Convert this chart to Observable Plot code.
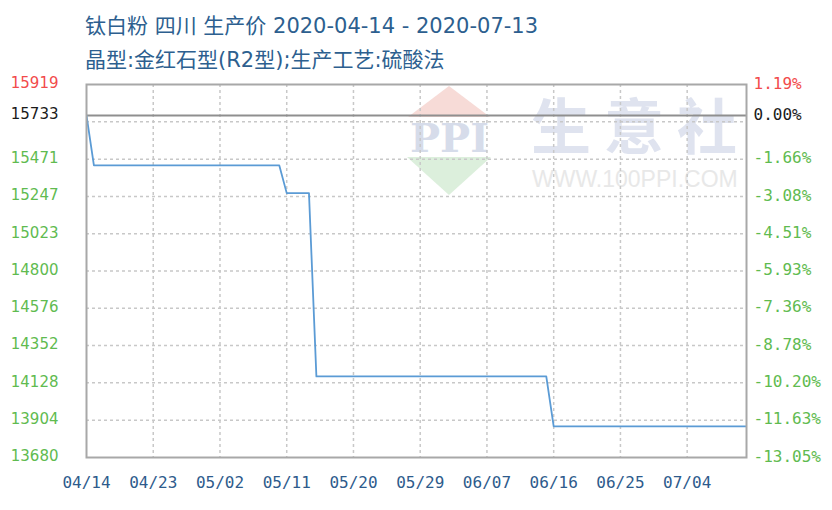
<!DOCTYPE html>
<html><head><meta charset="utf-8">
<script src="https://cdn.jsdelivr.net/npm/d3@7"></script>
<script src="https://cdn.jsdelivr.net/npm/@observablehq/plot@0.6"></script>
<style>
body{margin:0;background:#fff;width:832px;height:510px;overflow:hidden;position:relative;}
#title{position:absolute;left:85px;top:9px;color:#2d5f8f;font-family:"DejaVu Sans","Noto Sans CJK SC",sans-serif;font-size:21px;line-height:34px;white-space:nowrap;}
#chart{position:absolute;left:0;top:70px;}
.wm{position:absolute;white-space:nowrap;}
</style></head><body>
<div id="wm">
  <div class="wm" style="left:408px;top:86px;width:0;height:0;border-left:41px solid transparent;border-right:41px solid transparent;border-bottom:31px solid #f7dbd7;"></div>
  <div class="wm" style="left:410px;top:118px;font-family:'DejaVu Serif',serif;font-weight:bold;font-size:40px;line-height:40px;color:#d6dcea;">PPI</div>
  <div class="wm" style="left:407px;top:157px;width:0;height:0;border-left:42px solid transparent;border-right:42px solid transparent;border-top:38px solid #dcefdc;"></div>
  <div class="wm" style="left:531px;top:88px;font-family:'Noto Sans CJK SC',sans-serif;font-weight:bold;font-size:60px;line-height:70px;letter-spacing:13px;color:#dfe3ef;">生意社</div>
  <div class="wm" style="left:532px;top:165px;font-family:'Liberation Sans',sans-serif;font-size:23px;line-height:28px;color:#e8e8e8;">WWW.100PPI.COM</div>
</div>
<div id="title"><div>钛白粉 四川 生产价 2020-04-14 - 2020-07-13</div><div>晶型:金红石型(R2型);生产工艺:硫酸法</div></div>
<div id="chart"></div>
<script>
const dates  = ["2020-04-14","2020-04-15","2020-05-10","2020-05-11","2020-05-14","2020-05-15","2020-06-15","2020-06-16","2020-07-13"];
const prices = [15733, 15433, 15433, 15267, 15267, 14167, 14167, 13867, 13867];
const basePrice = 15733;
const yTickValues = [15919, 15733, 15471, 15247, 15023, 14800, 14576, 14352, 14128, 13904, 13680];
const pctLabels   = ["1.19%","0.00%","-1.66%","-3.08%","-4.51%","-5.93%","-7.36%","-8.78%","-10.20%","-11.63%","-13.05%"];
const yGridValues = [15695, 15471, 15247, 15023, 14800, 14576, 14352, 14128, 13904];
const xTickLabels = ["04/14","04/23","05/02","05/11","05/20","05/29","06/07","06/16","06/25","07/04"];

const parse = d3.utcParse("%Y-%m-%d");
const data = dates.map((d, i) => ({date: parse(d), price: prices[i]}));
const xTickDates = xTickLabels.map(l => parse("2020-" + l.replace("/", "-")));
const labelColor = (v) => v === 15919 ? "#f24b4b" : v === basePrice ? "#1a1a1a" : "#5fbb50";
const yTicks = yTickValues.map((v, i) => ({v, pct: pctLabels[i], color: labelColor(v)}));
const xTicks = xTickDates.map((d, i) => ({d, label: xTickLabels[i]}));

const plot = Plot.plot({
  width: 832, height: 440,
  marginTop: 14, marginBottom: 53, marginLeft: 86, marginRight: 86,
  style: {background: "transparent", overflow: "visible"},
  x: {type: "utc", domain: [parse("2020-04-14"), parse("2020-07-12")], axis: null},
  y: {domain: [13680, 15919], axis: null},
  marks: [
    Plot.ruleX(xTickDates.slice(1), {stroke: "#c8c8c8", strokeWidth: 1.5, strokeDasharray: "3,3"}),
    Plot.ruleY(yGridValues, {stroke: "#c8c8c8", strokeWidth: 1.5, strokeDasharray: "3,3"}),
    Plot.ruleY([basePrice], {stroke: "#8f8f8f", strokeWidth: 2}),
    Plot.line(data, {x: "date", y: "price", stroke: "#5b9bd5", strokeWidth: 1.8, clip: true}),
    Plot.frame({stroke: "#a8a8a8", strokeWidth: 2}),
    Plot.text(yTicks, {y: "v", text: d => String(d.v), fill: "color", frameAnchor: "left", textAnchor: "end", dx: -28, dy: -1, fontSize: 15, fontFamily: "DejaVu Sans"}),
    Plot.text(yTicks, {y: "v", text: "pct", fill: "color", frameAnchor: "right", textAnchor: "start", dx: 7, dy: -1, fontSize: 16, fontFamily: "DejaVu Sans Mono"}),
    Plot.text(xTicks, {x: "d", text: "label", frameAnchor: "bottom", dy: 30, fill: "#2e5b8c", fontSize: 16, fontFamily: "DejaVu Sans Mono"})
  ]
});
document.getElementById("chart").appendChild(plot);
</script>
</body></html>
